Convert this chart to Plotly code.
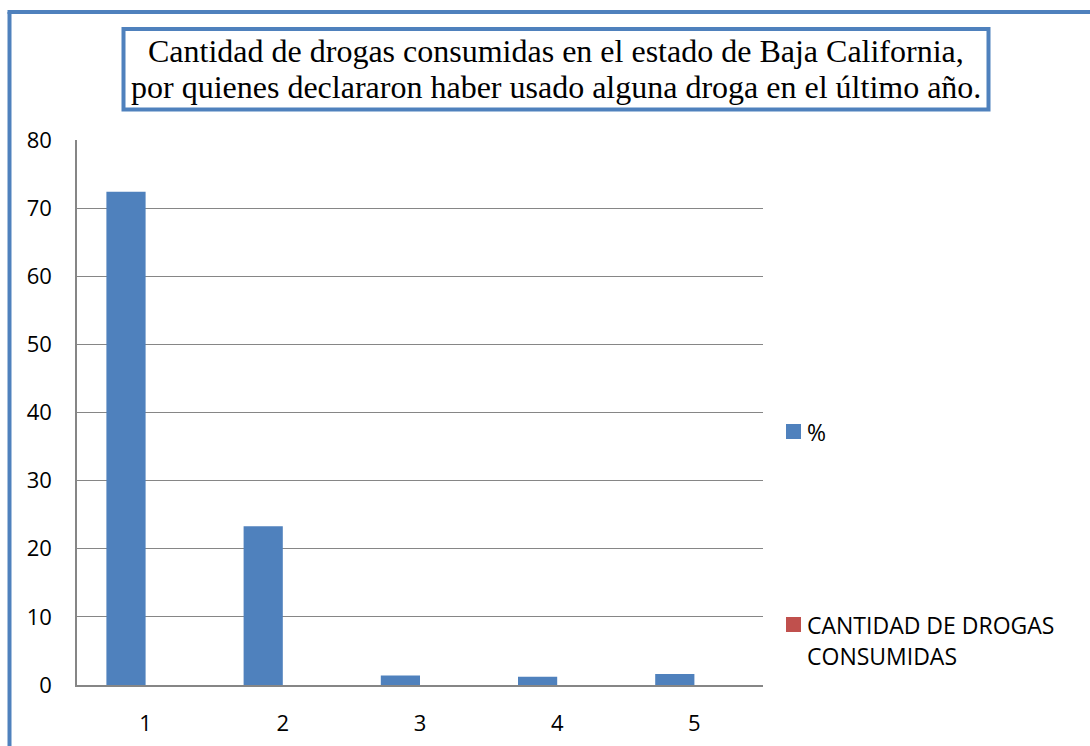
import plotly.graph_objects as go

# Survey data: number of drugs consumed (1..5) and share of respondents
categories = ["1", "2", "3", "4", "5"]
pct_values = [72.4, 23.3, 1.4, 1.2, 1.6]
cantidad_values = [0, 0, 0, 0, 0]
y_ticks = [0, 10, 20, 30, 40, 50, 60, 70, 80]
series_names = ["%", "CANTIDAD DE DROGAS CONSUMIDAS"]

title_lines = [
    "Cantidad de drogas consumidas en el estado de Baja California,",
    "por quienes declararon haber usado alguna droga en el último año.",
]

W, H = 1090, 746
L, T, R, B = 77, 140, 327, 61
PW, PH = W - L - R, H - T - B

BLUE = "#4F81BD"
RED = "#C0504D"
AXIS = "#868686"
TICK_FONT = dict(family="Open Sans", size=22, color="black")
LEGEND_FONT = dict(family="Open Sans", size=23, color="black")


def px_x(x):
    return (x - L) / PW


def px_y(y):
    return (H - B - y) / PH


fig = go.Figure()
fig.add_trace(go.Bar(x=categories, y=pct_values, name=series_names[0],
                     marker=dict(color=BLUE, line=dict(width=0))))
fig.add_trace(go.Bar(x=categories, y=cantidad_values, name=series_names[1],
                     marker=dict(color=RED, line=dict(width=0))))

shapes = [
    # outer frame (left and top edges visible)
    dict(type="line", xref="paper", yref="paper",
         x0=px_x(9.5), x1=px_x(9.5), y0=px_y(12), y1=px_y(760),
         line=dict(color=BLUE, width=4)),
    dict(type="line", xref="paper", yref="paper",
         x0=px_x(7.5), x1=px_x(1100), y0=px_y(12), y1=px_y(12),
         line=dict(color=BLUE, width=4)),
    # title box
    dict(type="rect", xref="paper", yref="paper",
         x0=px_x(123.5), x1=px_x(988.5), y0=px_y(29), y1=px_y(109.5),
         line=dict(color=BLUE, width=4), fillcolor="white"),
]

annotations = []
for line, cy in zip(title_lines, [51, 87]):
    annotations.append(dict(
        text=line, xref="paper", yref="paper",
        x=px_x(556), y=px_y(cy), xanchor="center", yanchor="middle",
        showarrow=False,
        font=dict(family="Liberation Serif", size=32, color="black")))

# legend drawn as swatches with labels beside them
legend_items = [
    (BLUE, 431.5, [series_names[0]], [432]),
    (RED, 624.5, ["CANTIDAD DE DROGAS", "CONSUMIDAS"], [625, 656]),
]
for color, sy, lines, ys in legend_items:
    shapes.append(dict(type="rect", xref="paper", yref="paper",
                       x0=px_x(786), x1=px_x(801),
                       y0=px_y(sy - 7.5), y1=px_y(sy + 7.5),
                       line=dict(width=0), fillcolor=color))
    for text, ty in zip(lines, ys):
        annotations.append(dict(
            text=text, xref="paper", yref="paper",
            x=px_x(805), y=px_y(ty), xanchor="left", yanchor="middle",
            showarrow=False, font=LEGEND_FONT))

fig.update_layout(
    width=W, height=H,
    margin=dict(l=L, r=R, t=T, b=B),
    paper_bgcolor="white", plot_bgcolor="white",
    barmode="group", bargap=1.5 / 3.5, bargroupgap=0,
    showlegend=False,
    shapes=shapes, annotations=annotations,
    xaxis=dict(type="category", showline=True, linecolor=AXIS, linewidth=1.5,
               showgrid=False, ticks="", zeroline=False, automargin=False,
               ticklabelstandoff=18, tickfont=TICK_FONT),
    yaxis=dict(range=[0, 80], tickvals=y_ticks, showline=True, linecolor=AXIS,
               linewidth=1.5, showgrid=True, gridcolor=AXIS, gridwidth=1,
               zeroline=False, ticks="", ticklen=0, automargin=False,
               ticklabelstandoff=19, tickfont=TICK_FONT),
)

fig.write_html("out.html")
